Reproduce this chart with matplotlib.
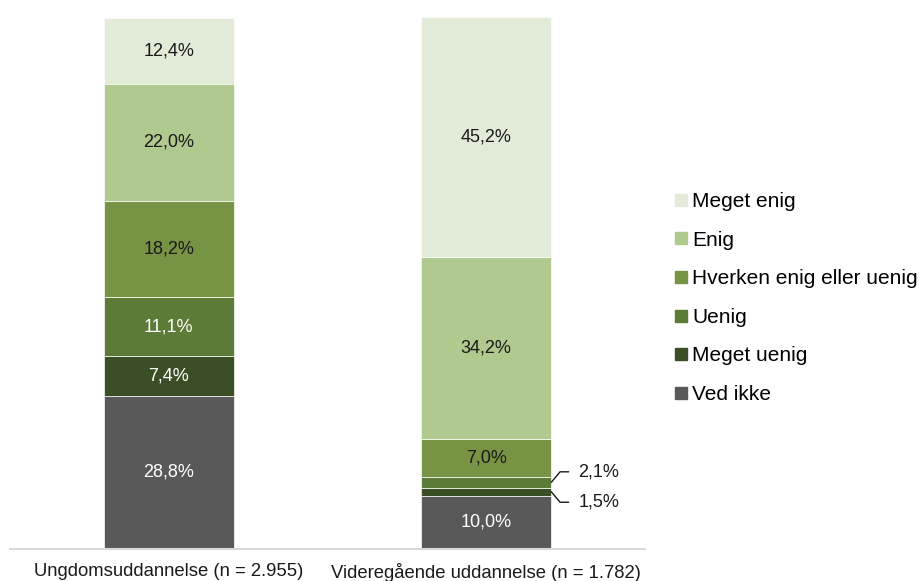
from matplotlib import pyplot as plt
from matplotlib.lines import Line2D
import numpy as np

plt.rcParams["font.family"] = ["Liberation Sans", "DejaVu Sans"]

# Data (stack order from bottom to top)
groups = ["Ungdomsuddannelse (n = 2.955)", "Videregående uddannelse (n = 1.782)"]
answers = ["Ved ikke", "Meget uenig", "Uenig", "Hverken enig eller uenig", "Enig", "Meget enig"]
ved_ikke = [28.8, 10.0]
meget_uenig = [7.4, 1.5]
uenig = [11.1, 2.1]
hverken = [18.2, 7.0]
enig = [22.0, 34.2]
meget_enig = [12.4, 45.2]

colors = ["#595959", "#3B4F27", "#5B7B36", "#769444", "#AFC98E", "#E2EBD8"]
text_colors = ["white", "white", "white", "#1a1a1a", "#1a1a1a", "#1a1a1a"]

series = [ved_ikke, meget_uenig, uenig, hverken, enig, meget_enig]

fig = plt.figure(figsize=(9.22, 5.81), dpi=100)
ax = fig.add_axes([10 / 922, 32 / 581, 635 / 922, 532 / 581])

x = np.arange(len(groups))
width = 0.41
bottom = np.zeros(len(groups))

for i, (name, values) in enumerate(zip(answers, series)):
    values = np.array(values)
    ax.bar(x, values, width=width, bottom=bottom, color=colors[i],
           edgecolor="white", linewidth=0.5, label=name)
    for j, v in enumerate(values):
        mid = bottom[j] + v / 2
        label = f"{v:.1f}".replace(".", ",") + "%"
        if v >= 3:
            ax.text(x[j], mid, label, ha="center", va="center",
                    fontsize=13, color=text_colors[i])
        else:
            # small segments get a callout outside the bar
            up = v > 2
            ax.annotate(label, xy=(x[j] + width / 2, mid),
                        xytext=(19.5, 7.5 if up else -7.5), textcoords="offset points",
                        ha="left", va="center", fontsize=13, color="#1a1a1a",
                        arrowprops=dict(arrowstyle="-", color="#1a1a1a", lw=1.0,
                                        shrinkA=5, shrinkB=0,
                                        connectionstyle=f"angle,angleA=0,angleB={50 if up else -50},rad=0"))
    bottom += values

ax.set_xlim(-0.5, 1.5)
ax.set_ylim(0, 100)
ax.set_xticks(x)
ax.set_xticklabels(groups, fontsize=13.3, color="#1a1a1a")
ax.tick_params(axis="x", length=0, pad=10)
ax.set_yticks([])
for side in ["top", "right", "left"]:
    ax.spines[side].set_visible(False)
ax.spines["bottom"].set_color("#D9D9D9")
ax.spines["bottom"].set_linewidth(1.5)

# Legend (top entry = top of stack)
handles = [Line2D([], [], marker="s", linestyle="", markersize=8,
                  markerfacecolor=c, markeredgecolor=c) for c in colors[::-1]]
fig.legend(handles, answers[::-1], loc="center left", bbox_to_anchor=(664 / 922, 1 - 298 / 581),
           frameon=False, fontsize=15, handlelength=0.6, handletextpad=0.25,
           labelspacing=0.94, borderpad=0)

fig.savefig("out.png", dpi=100)
